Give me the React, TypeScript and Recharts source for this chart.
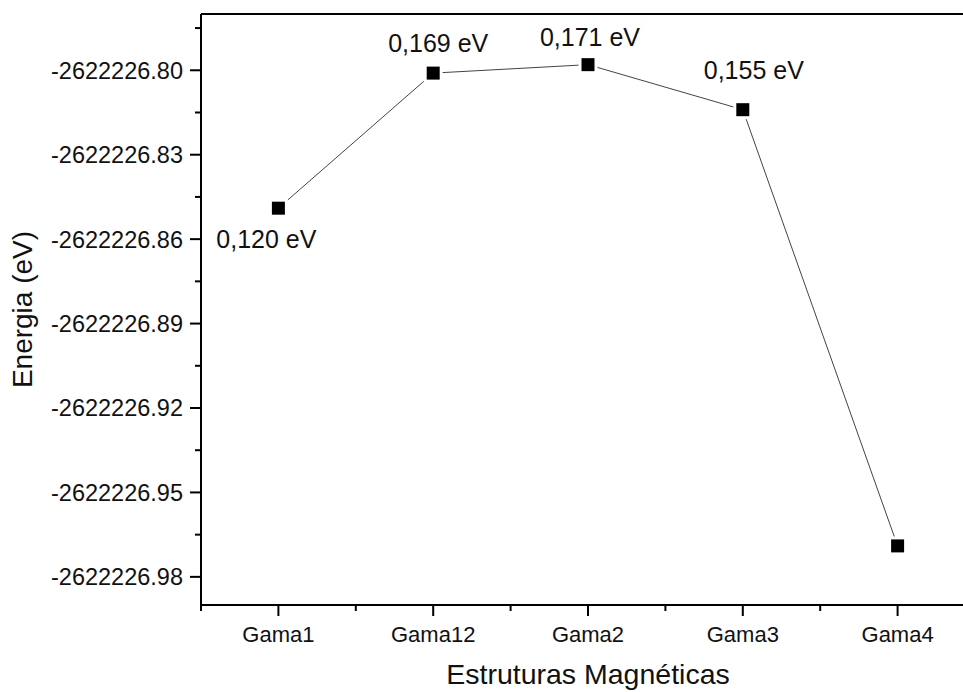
import React from 'react';
import {
  LineChart,
  Line,
  XAxis,
  YAxis,
  ReferenceLine,
  LabelList,
} from 'recharts';

const structures = ['Gama1', 'Gama12', 'Gama2', 'Gama3', 'Gama4'];
const energies = [-2622226.849, -2622226.801, -2622226.798, -2622226.814, -2622226.969];
const gapLabels = ['0,120 eV', '0,169 eV', '0,171 eV', '0,155 eV', ''];

const yMajorTicks = [-2622226.8, -2622226.83, -2622226.86, -2622226.89, -2622226.92, -2622226.95, -2622226.98];
const yMinorTicks = [-2622226.785, -2622226.815, -2622226.845, -2622226.875, -2622226.905, -2622226.935, -2622226.965];
const yDomain = [-2622226.99, -2622226.78];

const xMajorTicks = [1, 2, 3, 4, 5];
const xMinorTicks = [0.5, 1.5, 2.5, 3.5, 4.5, 5.5];
const xDomain = [0.5, 5.5];

const FONT = '"Liberation Sans", Arial, sans-serif';
const INK = '#111';

// hand placement of the annotations, as in the original figure
const labelShift = [
  { dx: -12, dy: 40 },
  { dx: 5, dy: -21 },
  { dx: 2, dy: -19 },
  { dx: 11, dy: -31 },
];

const data = structures.map((name, i) => ({
  pos: i + 1,
  name,
  energy: energies[i],
  label: gapLabels[i],
}));

const XTick = (props: any) => {
  const { x, y, payload } = props;
  const v = payload.value;
  const major = xMajorTicks.includes(v);
  return (
    <g>
      <line x1={x} x2={x} y1={y} y2={y + (major ? 11 : 6)} stroke="#000" strokeWidth={2} />
      {major && (
        <text x={x} y={y + 37} textAnchor="middle" fontSize={22} fontFamily={FONT} fill={INK}>
          {structures[v - 1]}
        </text>
      )}
    </g>
  );
};

const YTick = (props: any) => {
  const { x, y, payload } = props;
  const v = payload.value;
  const major = yMajorTicks.includes(v);
  return (
    <g>
      <line x1={x - (major ? 11 : 6)} x2={x} y1={y} y2={y} stroke="#000" strokeWidth={2} />
      {major && (
        <text x={x - 18} y={y} dy="0.36em" textAnchor="end" fontSize={23.5} fontFamily={FONT} fill={INK}>
          {v.toFixed(2)}
        </text>
      )}
    </g>
  );
};

const SquareDot = (props: any) => {
  const { cx, cy, index } = props;
  if (cx == null || cy == null) return null;
  return (
    <g key={`dot-${index}`}>
      <rect x={cx - 9.5} y={cy - 9.5} width={19} height={19} fill="#fff" />
      <rect x={cx - 6.5} y={cy - 6.5} width={13} height={13} fill="#000" />
    </g>
  );
};

const GapLabel = (props: any) => {
  const { x, y, value, index } = props;
  if (!value) return null;
  const s = labelShift[index] || { dx: 0, dy: -22 };
  return (
    <text x={x + s.dx} y={y + s.dy} textAnchor="middle" fontSize={25} fontFamily={FONT} fill={INK}>
      {value}
    </text>
  );
};

const YTitle = (props: any) => {
  const { viewBox } = props;
  const cx = viewBox.x + 22;
  const cy = viewBox.y + viewBox.height / 2;
  return (
    <text
      x={cx}
      y={cy}
      dy="0.36em"
      transform={`rotate(-90, ${cx}, ${cy})`}
      textAnchor="middle"
      fontSize={28}
      fontFamily={FONT}
      fill={INK}
    >
      Energia (eV)
    </text>
  );
};

const XTitle = (props: any) => {
  const { viewBox } = props;
  return (
    <text
      x={viewBox.x + viewBox.width / 2}
      y={viewBox.y + 79}
      textAnchor="middle"
      fontSize={28.5}
      fontFamily={FONT}
      fill={INK}
    >
      Estruturas Magnéticas
    </text>
  );
};

export default function App() {
  return (
    <div
      style={{
        position: 'fixed',
        top: 0,
        left: 0,
        width: 963,
        height: 692,
        overflow: 'hidden',
        background: '#fff',
      }}
    >
      <LineChart width={990} height={692} data={data} margin={{ top: 14, right: 15, left: 0, bottom: 0 }}>
        <XAxis
          dataKey="pos"
          type="number"
          domain={xDomain}
          ticks={[...xMinorTicks, ...xMajorTicks].sort((a, b) => a - b)}
          interval={0}
          allowDataOverflow
          height={87}
          tickSize={0}
          tickMargin={0}
          tickLine={false}
          axisLine={{ stroke: '#000', strokeWidth: 2 }}
          tick={<XTick />}
          label={<XTitle />}
        />
        <YAxis
          type="number"
          domain={yDomain}
          ticks={[...yMinorTicks, ...yMajorTicks].sort((a, b) => a - b)}
          interval={0}
          allowDataOverflow
          width={201}
          tickSize={0}
          tickMargin={0}
          tickLine={false}
          axisLine={{ stroke: '#000', strokeWidth: 2 }}
          tick={<YTick />}
          label={<YTitle />}
        />
        <ReferenceLine y={yDomain[1]} stroke="#000" strokeWidth={2} />
        <ReferenceLine x={xDomain[1]} stroke="#000" strokeWidth={2} />
        <Line
          dataKey="energy"
          stroke="#444"
          strokeWidth={1}
          dot={SquareDot}
          activeDot={false}
          isAnimationActive={false}
        >
          <LabelList dataKey="label" content={GapLabel} />
        </Line>
      </LineChart>
    </div>
  );
}
